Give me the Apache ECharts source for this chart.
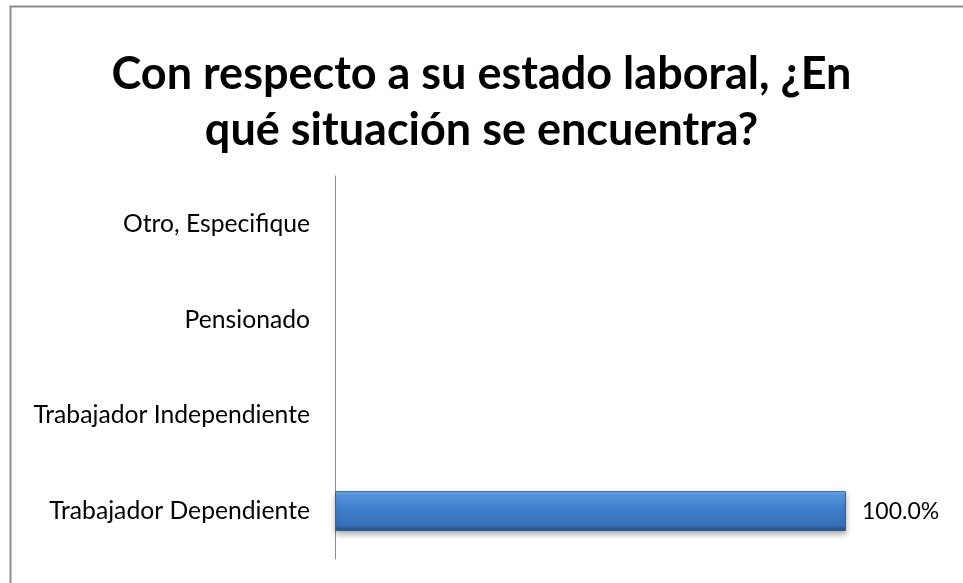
<!DOCTYPE html>
<html>
<head>
<meta charset="utf-8">
<script src="https://cdn.jsdelivr.net/npm/echarts@6/dist/echarts.min.js"></script>
<style>
  html, body { margin: 0; padding: 0; background: #fff; }
  #myChart { width: 963px; height: 583px; }
</style>
</head>
<body>
<div id="myChart"></div>
<script>
// categorias (de abajo hacia arriba)
let categories = ['Trabajador Dependiente', 'Trabajador Independiente', 'Pensionado', 'Otro, Especifique'];
let values = [1, null, null, null];
let titleText = 'Con respecto a su estado laboral, ¿En\nqué situación se encuentra?';

let chart = echarts.init(document.getElementById('myChart'));
let option = {
  animation: false,
  textStyle: { fontFamily: 'Lato' },
  title: {
    text: titleText,
    left: 'center',
    top: 46,
    padding: 0,
    textStyle: { fontFamily: 'Lato', fontWeight: 'bold', fontSize: 45, lineHeight: 56, color: '#000' }
  },
  graphic: [{
    type: 'rect',
    shape: { x: 10.5, y: 6.5, width: 1000, height: 1000 },
    style: { fill: 'none', stroke: '#8c8c8c', lineWidth: 2 },
    silent: true
  }],
  grid: { left: 335, right: 117, top: 176, bottom: 24 },
  xAxis: {
    type: 'value',
    min: 0,
    max: 1,
    show: false
  },
  yAxis: {
    type: 'category',
    data: categories,
    axisTick: { show: false },
    axisLine: { show: true, lineStyle: { color: '#8c8c8c', width: 1 } },
    axisLabel: { color: '#000', fontSize: 24.7, margin: 25, fontFamily: 'Lato' }
  },
  series: [{
    type: 'bar',
    data: values,
    barWidth: 40,
    itemStyle: {
      color: new echarts.graphic.LinearGradient(0, 0, 0, 1, [
        { offset: 0, color: '#78b2f2' },
        { offset: 0.1, color: '#5898e2' },
        { offset: 0.45, color: '#3e7dca' },
        { offset: 0.85, color: '#3870b8' },
        { offset: 1, color: '#264c80' }
      ]),
      borderColor: '#2f5f9c',
      borderWidth: 1,
      shadowColor: 'rgba(0,0,0,0.3)',
      shadowBlur: 6,
      shadowOffsetY: 3
    },
    label: {
      show: true,
      position: 'right',
      distance: 16,
      color: '#000',
      fontSize: 23,
      fontFamily: 'Lato',
      formatter: p => (p.value * 100).toFixed(1) + '%'
    }
  }]
};
chart.setOption(option);
</script>
</body>
</html>
